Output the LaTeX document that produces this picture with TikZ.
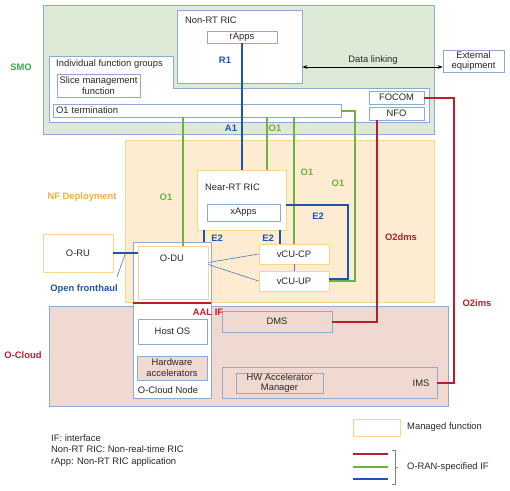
\documentclass[tikz,border=0pt]{standalone}
\usepackage{fontspec}
\setmainfont{Liberation Sans}
\usetikzlibrary{arrows.meta,calc,positioning}
\definecolor{smofill}{RGB}{222,234,213}
\definecolor{boxblue}{RGB}{143,170,210}
\definecolor{nffill}{RGB}{253,236,210}
\definecolor{nfline}{RGB}{248,215,140}
\definecolor{cloudfill}{RGB}{240,217,208}
\definecolor{ifgreen}{RGB}{108,178,62}
\definecolor{ifblue}{RGB}{28,85,170}
\definecolor{ifred}{RGB}{185,30,45}
\definecolor{smolabel}{RGB}{60,165,70}
\definecolor{nflabel}{RGB}{240,175,60}
\definecolor{cloudlabel}{RGB}{200,25,55}
\definecolor{txt}{RGB}{40,40,40}

\tikzset{
  every node/.style={font=\fontsize{9.4}{10.8}\selectfont, inner sep=0pt, text=txt},
  region/.style={draw=boxblue, line width=0.8pt},
  bluebox/.style={draw=boxblue, fill=white, line width=0.8pt, align=center},
  pinkbox/.style={bluebox, fill=cloudfill},
  nfbox/.style={draw=nfline, fill=white, line width=0.8pt, align=center},
  greenIF/.style={draw=ifgreen, line width=2pt},
  blueIF/.style={draw=ifblue, line width=2pt},
  redIF/.style={draw=ifred, line width=2pt},
  thinblue/.style={draw=ifblue!80, line width=0.6pt},
  iflabel/.style={font=\fontsize{9.4}{10.8}\selectfont\bfseries}
}

\begin{document}
\begin{tikzpicture}[x=1pt,y=-1pt]
  \useasboundingbox (0,0) rectangle (510,490);

  % SMO
  \node[region, fill=smofill, minimum width=391, minimum height=129] (smo) at (238.5,69.5) {};
  \node[iflabel, text=smolabel] (smolbl) at (21,67) {SMO};
  \node[bluebox, minimum width=125, minimum height=73] (nonrt) at (239.5,46.5) {};
  \node[anchor=west] (nonrtlbl) at (185,20) {Non-RT RIC};
  \node[bluebox, minimum width=70, minimum height=12] (rapps) at (242,37) {rApps};
  \draw[bluebox] (49,56) -- (173,56) -- (173,88) -- (429,88) -- (429,122) -- (49,122) -- cycle;
  \node[anchor=west] (ifglbl) at (56,64) {Individual function groups};
  \node[bluebox, minimum width=83, minimum height=23] (slice) at (98.5,85.5) {Slice management\\function};
  \node[bluebox, minimum width=288, minimum height=13, inner xsep=3pt, text width=282, align=left] (o1t) at (197,110.5) {O1 termination};
  \node[bluebox, minimum width=55, minimum height=13] (focom) at (396.5,97.5) {FOCOM};
  \node[bluebox, minimum width=55, minimum height=13] (nfo) at (396.5,113.5) {NFO};
  \node[bluebox, minimum width=61, minimum height=22] (ext) at (473.5,61) {External\\equipment};

  % NF deployment
  \node[draw=nfline, fill=nffill, line width=0.8pt, minimum width=309, minimum height=162] (nfd) at (279.5,221) {};
  \node[iflabel, text=nflabel] (nflbl) at (82,197) {NF Deployment};

  % O-Cloud
  \node[region, fill=cloudfill, minimum width=399, minimum height=100] (cloud) at (248.5,356) {};
  \node[iflabel, text=cloudlabel] (cloudlbl) at (23,355) {O-Cloud};
  \node[bluebox, minimum width=78, minimum height=156] (cnode) at (172,320) {};
  \node (cnodelbl) at (168,390) {O-Cloud Node};

  \node[nfbox, minimum width=89, minimum height=60] (nearric) at (241.5,200) {};
  \node[anchor=west] (nearlbl) at (205,187) {Near-RT RIC};
  \node[bluebox, minimum width=73, minimum height=17] (xapps) at (243.5,212.5) {xApps};
  \node[nfbox, minimum width=70, minimum height=20] (vcucp) at (294,254) {vCU-CP};
  \node[nfbox, minimum width=70, minimum height=20] (vcuup) at (294,281) {vCU-UP};
  \node[nfbox, minimum width=70, minimum height=38] (oru) at (78,253) {O-RU};
  \node[nfbox, minimum width=70, minimum height=53] (odu) at (173,272.5) {};
  \node (odulbl) at (172,258) {O-DU};
  \node[bluebox, minimum width=69, minimum height=25] (hostos) at (172.5,331.5) {Host OS};
  \node[pinkbox, minimum width=70, minimum height=24] (hwacc) at (172,368) {Hardware\\accelerators};
  \node[pinkbox, minimum width=110, minimum height=21] (dms) at (277,321.5) {DMS};
  \node[pinkbox, minimum width=215, minimum height=31] (ims) at (329.5,382.5) {};
  \node (imslbl) at (421,383) {IMS};
  \node[pinkbox, minimum width=87, minimum height=20] (hwam) at (279.5,383) {HW Accelerator\\Manager};

  % interfaces
  \draw[blueIF] (rapps.south) -- (rapps.south |- nearric.north);
  \draw[greenIF] ([xshift=10pt]odu.north) -- ([xshift=10pt]odu.north |- o1t.south);
  \draw[greenIF] ([xshift=25.5pt]nearric.north) -- ([xshift=25.5pt]nearric.north |- o1t.south);
  \draw[greenIF] (vcucp.north) -- (vcucp.north |- o1t.south);
  \draw[greenIF] (o1t.east) -- ++(14,0) |- (vcuup.east);
  \draw[blueIF] ([yshift=-5pt]nearric.east) -- ++(62,0) |- ([yshift=2pt]vcuup.east);
  \draw[blueIF] ([xshift=-37.5pt]nearric.south) -- ([xshift=-37.5pt]nearric.south |- cnode.north);
  \draw[blueIF] ([xshift=38.5pt]nearric.south) -- ([xshift=38.5pt]nearric.south |- vcucp.north);
  \draw[thinblue] ([yshift=10pt]odu.east) -- (vcucp.west);
  \draw[thinblue] ([yshift=8pt]odu.east) -- (vcuup.west);
  \draw[thinblue] (vcucp.south) -- (vcuup.north);
  \draw[blueIF] (oru.east) -- (oru.east -| odu.west);
  \coordinate (fhmid) at ($(oru.east)!0.5!(oru.east -| odu.west)$);
  \coordinate (fhtip) at (117,277);
  \draw[thinblue] (fhmid) -- (fhtip);
  \draw[redIF] ([yshift=-1pt]cnode.west |- nfd.south) -- ([yshift=-1pt]cnode.east |- nfd.south);
  \draw[redIF] ([xshift=-19.5pt]nfo.south) |- (dms.east);
  \draw[redIF] (focom.east) -- ++(30,0) |- (ims.east);
  \draw[{Stealth[length=5pt]}-{Stealth[length=5pt]}, line width=0.6pt]
    ([yshift=-20.5pt]nonrt.east) -- ([yshift=-20.5pt]nonrt.east -| ext.west);

  % interface labels
  \node (datalbl) at (373,60) {Data linking};
  \node[iflabel, text=ifblue] (r1) at (225,60) {R1};
  \node[iflabel, text=ifblue] (a1) at (231,128) {A1};
  \node[iflabel, text=ifgreen] (o1a) at (275,128) {O1};
  \node[iflabel, text=ifgreen] (o1b) at (166,197) {O1};
  \node[iflabel, text=ifgreen] (o1c) at (307,172) {O1};
  \node[iflabel, text=ifgreen] (o1d) at (338,183) {O1};
  \node[iflabel, text=ifblue] (e2a) at (217,238) {E2};
  \node[iflabel, text=ifblue] (e2b) at (268,238) {E2};
  \node[iflabel, text=ifblue] (e2c) at (318,216) {E2};
  \node[iflabel, text=ifred] (o2dms) at (401,237) {O2dms};
  \node[iflabel, text=ifred] (o2ims) at (477,303) {O2ims};
  \node[iflabel, text=ifblue] (fhlbl) at (84,289) {Open fronthaul};
  \node[iflabel, text=ifred] (aal) at (208,312) {AAL IF};

  % legend
  \node[anchor=north west, align=left, font=\fontsize{9.4}{11.5}\selectfont] (abbr) at (51,434) {IF: interface\\Non-RT RIC: Non-real-time RIC\\rApp: Non-RT RIC application};
  \node[nfbox, minimum width=47, minimum height=17] (mfbox) at (376.5,427.5) {};
  \node[anchor=west] (mflbl) at (407,427) {Managed function};
  \draw[redIF] (353,454) -- (388,454);
  \draw[greenIF] (353,467) -- (388,467);
  \draw[blueIF] (353,479) -- (388,479);
  \draw[line width=0.5pt, gray] (392,450) -- (395,450) -- (395,484) -- (392,484) (395,467) -- (398,467);
  \node[anchor=west] (oranlbl) at (407,467) {O-RAN-specified IF};
\end{tikzpicture}
\end{document}
